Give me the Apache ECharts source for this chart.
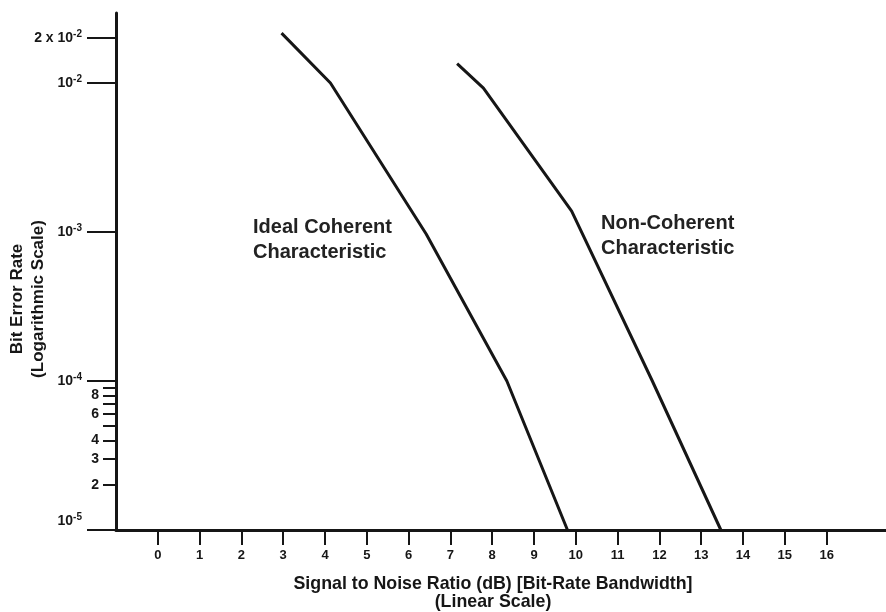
<!DOCTYPE html>
<html>
<head>
<meta charset="utf-8">
<script src="https://cdn.jsdelivr.net/npm/echarts@6/dist/echarts.min.js"></script>
<style>
html,body{margin:0;padding:0;background:#fff;}
#chart{width:886px;height:612px;}
</style>
</head>
<body>
<div id="chart"></div>
<script>
// ---- data ----
var xTicks = [0,1,2,3,4,5,6,7,8,9,10,11,12,13,14,15,16];
var yMajorTicks = [2e-2, 1e-2, 1e-3, 1e-4, 1e-5];
var yMinorTicks = [2e-5, 3e-5, 4e-5, 5e-5, 6e-5, 7e-5, 8e-5, 9e-5];
var yMinorLabels = [2e-5, 3e-5, 4e-5, 6e-5, 8e-5];

var idealX = [2.96, 4.13, 6.42, 8.35, 9.80];
var idealY = [2.16e-2, 1.0e-2, 9.7e-4, 1.0e-4, 1e-5];
var nonCohX = [7.16, 7.79, 9.90, 11.83, 13.47];
var nonCohY = [1.35e-2, 9.25e-3, 1.38e-3, 1.0e-4, 1e-5];

function pairs(xs, ys){ return xs.map(function(x,i){ return [x, ys[i]]; }); }

var FONT = '"Liberation Sans", Arial, Helvetica, sans-serif';
var INK = '#161616';

function majorLabel(v){
  var e = Math.round(Math.log10(v));
  if (Math.abs(v - 2e-2) < 1e-9) return '{b|2 x 10}{s|-2}';
  if (Math.abs(v - 1e-5) < 1e-12) return '{b|10}{s|-5}\n{sp| }';
  return '{b|10}{s|' + e + '}';
}

var chart = echarts.init(document.getElementById('chart'), null, {renderer:'canvas'});
chart.setOption({
  animation: false,
  backgroundColor: '#fff',
  grid: {left: 116, top: 13, right: 0, bottom: 82, containLabel: false, outerBoundsMode: 'none'},
  xAxis: {
    type: 'value', min: -1, max: 17.42,
    axisLine: {onZero: false, lineStyle: {color: INK, width: 3}},
    axisTick: {customValues: xTicks, length: 15, lineStyle: {color: INK, width: 2}},
    axisLabel: {customValues: xTicks, margin: 19, fontFamily: FONT, fontWeight: 'bold', fontSize: 13, color: INK,
      formatter: function(v){ return String(Math.round(v)); }},
    splitLine: {show: false},
    name: 'Signal to Noise Ratio (dB) [Bit-Rate Bandwidth]\n(Linear Scale)',
    nameLocation: 'middle', nameGap: 45, nameMoveOverlap: false,
    nameTextStyle: {fontFamily: FONT, fontWeight: 'bold', fontSize: 17.8, lineHeight: 18, color: INK, padding: [0, 16, 0, 0]}
  },
  yAxis: [{
    type: 'log', min: 1e-5, max: 0.0295, logBase: 10,
    position: 'left', offset: 0,
    axisLine: {onZero: false, lineStyle: {color: INK, width: 3}},
    axisTick: {customValues: yMajorTicks, length: 29, lineStyle: {color: INK, width: 2}},
    axisLabel: {customValues: yMajorTicks, margin: 34, color: INK, formatter: majorLabel,
      rich: {
        b: {fontFamily: FONT, fontWeight: 'bold', fontSize: 14, lineHeight: 16, color: INK},
        s: {fontFamily: FONT, fontWeight: 'bold', fontSize: 10, lineHeight: 10, padding: [0,0,8,0], color: INK},
        sp: {fontSize: 1, lineHeight: 18}
      }},
    splitLine: {show: false},
    name: 'Bit Error Rate\n(Logarithmic Scale)',
    nameLocation: 'middle', nameGap: 67, nameMoveOverlap: false,
    nameTextStyle: {fontFamily: FONT, fontWeight: 'bold', fontSize: 17, lineHeight: 21, color: INK, padding: [0, 55, 0, 0]}
  }, {
    type: 'log', min: 1e-5, max: 0.0295, logBase: 10,
    position: 'left', offset: 0,
    axisLine: {show: false, onZero: false},
    axisTick: {customValues: yMinorTicks, length: 13, lineStyle: {color: INK, width: 2}},
    axisLabel: {customValues: yMinorLabels, margin: 17, fontFamily: FONT, fontWeight: 'bold', fontSize: 14, color: INK,
      formatter: function(v){ return String(Math.round(v / 1e-5)); }},
    splitLine: {show: false}
  }],
  series: [{
    type: 'line', name: 'Ideal Coherent', data: pairs(idealX, idealY),
    showSymbol: false, symbol: 'none', clip: false,
    lineStyle: {color: INK, width: 3}
  }, {
    type: 'line', name: 'Non-Coherent', data: pairs(nonCohX, nonCohY),
    showSymbol: false, symbol: 'none', clip: false,
    lineStyle: {color: INK, width: 3}
  }],
  graphic: [{
    type: 'text', left: 253, top: 215,
    style: {text: 'Ideal Coherent\nCharacteristic', fontFamily: FONT, fontWeight: 'bold', fontSize: 20, lineHeight: 25, fill: '#222'}
  }, {
    type: 'text', left: 601, top: 211,
    style: {text: 'Non-Coherent\nCharacteristic', fontFamily: FONT, fontWeight: 'bold', fontSize: 20, lineHeight: 25, fill: '#222'}
  }]
});
</script>
</body>
</html>
